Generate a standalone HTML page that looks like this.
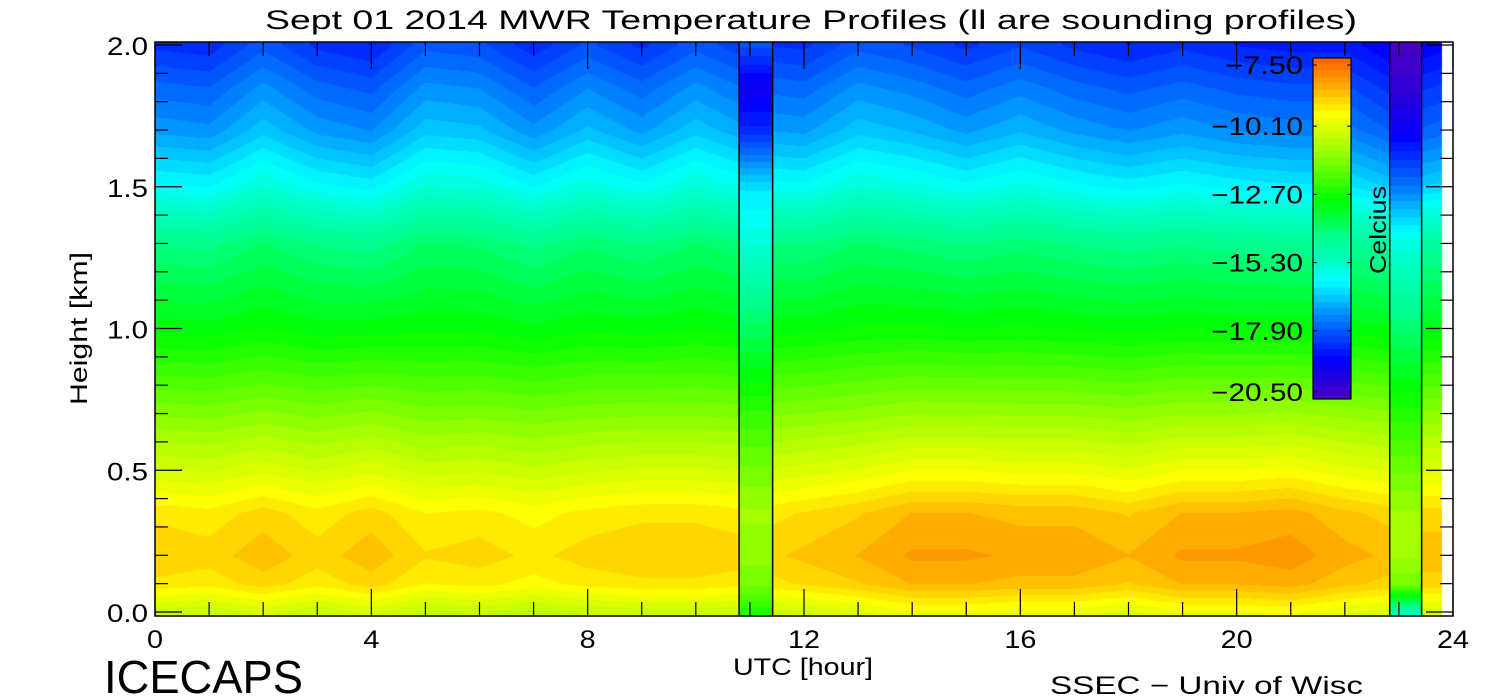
<!DOCTYPE html>
<html><head><meta charset="utf-8"><style>
body{margin:0;background:#fff;width:1500px;height:700px;overflow:hidden;font-family:"Liberation Sans",sans-serif;}
#wrap{position:relative;width:1500px;height:700px;}
canvas{position:absolute;left:0;top:0;}
svg{position:absolute;left:0;top:0;}
</style></head><body>
<div id="wrap">
<canvas id="c" width="1500" height="700"></canvas>
<svg id="s" width="1500" height="700" font-family="Liberation Sans" font-weight="300">
<text x="265" y="29" font-size="27" textLength="1092" lengthAdjust="spacingAndGlyphs">Sept 01 2014 MWR Temperature Profiles (ll are sounding profiles)</text>
<text x="733" y="675" font-size="24" textLength="140" lengthAdjust="spacingAndGlyphs">UTC [hour]</text>
<text x="0" y="0" font-size="24" textLength="153" lengthAdjust="spacingAndGlyphs" transform="translate(87,405) rotate(-90)">Height [km]</text>
<text x="104" y="693" font-size="46" textLength="199" lengthAdjust="spacingAndGlyphs">ICECAPS</text>
<text x="1050" y="694" font-size="25" textLength="313" lengthAdjust="spacingAndGlyphs">SSEC − Univ of Wisc</text>
<text x="0" y="0" font-size="23" textLength="88" lengthAdjust="spacingAndGlyphs" transform="translate(1386,274) rotate(-90)">Celcius</text>
</svg>
</div>
<script>
const heights=[0.0,0.1,0.2,0.35,0.5,0.7,1.0,1.3,1.5,1.7,1.85,2.0];
const baseProfile=[-10.5,-9.4,-9.1,-9.4,-10.3,-11.4,-13.0,-14.2,-15.9,-17.1,-17.7,-18.4];
const lowerWeight=[1,1,1,1,0.8,0.5,0.2,0,0,0,0,0];
const upperWeight=[0,0,0,0,0,0,0.2,0.6,0.9,1,1,1];
const times=[0,1,2,3,4,5,6,7,8,9,10,11,12,13,14,15,16,17,18,19,20,21,22,23,24];
const lowerAnom=[0.1,0.0,0.3,0.0,0.3,-0.1,0.0,-0.2,0.0,0.1,0.1,0.0,0.2,0.4,0.7,0.7,0.6,0.6,0.4,0.7,0.7,0.8,0.5,0.3,0.3];
const upperAnom=[0,-0.1,0.5,0,-0.2,0.5,0.4,-0.1,0.4,0,0.5,0.1,0,0.5,0.3,0,0.3,0,-0.2,0,-0.2,-0.3,-0.3,-0.8,-0.5];
const sounding1=[-12.5,-11.5,-11.2,-11.0,-11.5,-12.3,-13.8,-15.5,-16.3,-18.5,-19.3,-18.0];
const sounding2=[-15,-11.5,-11.0,-11.0,-11.6,-12.5,-14.0,-15.6,-17.5,-19.2,-20.0,-20.5];
const soundingTimes=[[10.8,11.42],[22.83,23.42]];
const dataEnd=23.8;
const xTicks=[0,4,8,12,16,20,24];
const yTicks=[0.0,0.5,1.0,1.5,2.0];
const cbLabels=["-7.50","-10.10","-12.70","-15.30","-17.90","-20.50"];
const cbValues=[-7.5,-10.1,-12.7,-15.3,-17.9,-20.5];

const L=155,R=1453,T=42,B=616;
const X=t=>L+(t/24)*(R-L);
const Y=h=>B-4-(h/2)*(B-4-(T+3));
const stops=[[-20.5,[74,0,192]],[-19,[0,0,255]],[-17.5,[0,120,255]],[-16.6,[0,200,255]],[-16.0,[0,255,255]],[-15.3,[0,255,200]],[-14.3,[0,255,140]],[-12.9,[0,255,0]],[-11,[160,255,0]],[-9.6,[255,255,0]],[-8.5,[255,165,0]],[-7.5,[255,100,0]]];
function col(v){v=Math.round(v/0.26)*0.26;if(v<=stops[0][0])return stops[0][1];
 for(let i=1;i<stops.length;i++){if(v<=stops[i][0]){const a=stops[i-1],b=stops[i],f=(v-a[0])/(b[0]-a[0]);return a[1].map((c,k)=>c+(b[1][k]-c)*f);}}return stops[stops.length-1][1];}
function interp(arr,h){if(h<=heights[0])return arr[0];for(let i=1;i<heights.length;i++){if(h<=heights[i]){const f=(h-heights[i-1])/(heights[i]-heights[i-1]);return arr[i-1]+(arr[i]-arr[i-1])*f;}}return arr[arr.length-1];}
function retr(t,h){let i=Math.min(Math.floor(t),23),f=t-i;
 const la=lowerAnom[i]+(lowerAnom[i+1]-lowerAnom[i])*f, ua=upperAnom[i]+(upperAnom[i+1]-upperAnom[i])*f;
 return interp(baseProfile,h)+la*interp(lowerWeight,h)+ua*interp(upperWeight,h);}
const cv=document.getElementById('c'),ctx=cv.getContext('2d');
const img=ctx.createImageData(R-L,B-T);
for(let py=0;py<B-T;py++){const h=Math.max(0,Math.min(2,(B-4-(py+T))/((B-4)-(T+3))*2));
 for(let px=0;px<R-L;px++){const t=(px+0.5)/(R-L)*24;let v;
  if(t>dataEnd){continue;}
  if(t>=soundingTimes[0][0]&&t<soundingTimes[0][1])v=interp(sounding1,h);
  else if(t>=soundingTimes[1][0]&&t<soundingTimes[1][1])v=interp(sounding2,h);
  else v=retr(t,h);
  const c=col(v),k=(py*(R-L)+px)*4;img.data[k]=c[0];img.data[k+1]=c[1];img.data[k+2]=c[2];img.data[k+3]=255;}}
ctx.putImageData(img,L,T);
const cbL=1313,cbR=1351,cbT=58,cbB=399;
for(let y=cbT;y<cbB;y++){const v=-7.5-(y-cbT)/(cbB-cbT)*13;const c=col(v);ctx.fillStyle=`rgb(${c[0]|0},${c[1]|0},${c[2]|0})`;ctx.fillRect(cbL,y,cbR-cbL,1);}
const s=document.getElementById('s');const NS='http://www.w3.org/2000/svg';
function el(tag,a,p){const e=document.createElementNS(NS,tag);for(const k in a)e.setAttribute(k,a[k]);(p||s).appendChild(e);return e;}
let e;
e=el('rect',{x:L,y:T,width:R-L,height:B-T,fill:'none',stroke:'#000','stroke-width':1.5});


soundingTimes.forEach(st=>{st.forEach(t=>{const l=el('line',{x1:X(t),x2:X(t),y1:T,y2:B,stroke:'#000','stroke-width':1.5});

});});
for(let t=0;t<=24;t++){const maj=t%4===0,len=maj?27:14;
 el('line',{x1:X(t),x2:X(t),y1:B,y2:B-len,stroke:'#000','stroke-width':1.2});
 el('line',{x1:X(t),x2:X(t),y1:T,y2:T+len,stroke:'#000','stroke-width':1.2});}
for(let i=0;i<=20;i++){const h=i/10,maj=i%5===0,len=maj?27:13;
 el('line',{x1:L,x2:L+len,y1:Y(h),y2:Y(h),stroke:'#000','stroke-width':1.2});
 el('line',{x1:R,x2:R-len,y1:Y(h),y2:Y(h),stroke:'#000','stroke-width':1.2});}
xTicks.forEach(t=>{const str=String(t);const tx=el('text',{x:X(t),y:648,'text-anchor':'middle','font-size':25,textLength:str.length*16,lengthAdjust:'spacingAndGlyphs'});tx.textContent=str;

});
yTicks.forEach(h=>{const tx=el('text',{x:148,y:Y(h)+10,'text-anchor':'end','font-size':25,textLength:41,lengthAdjust:'spacingAndGlyphs'});tx.textContent=h.toFixed(1);

});
e=el('rect',{x:cbL,y:cbT,width:cbR-cbL,height:cbB-cbT,fill:'none',stroke:'#000','stroke-width':1.2});


cbValues.forEach((v,i)=>{const y=cbT+(-7.5-v)/13*(cbB-cbT)+(i===0?7:0)-(i===5?7:0);
 el('line',{x1:cbL,x2:cbL+4,y1:y,y2:y,stroke:'#000'});el('line',{x1:cbR,x2:cbR-4,y1:y,y2:y,stroke:'#000'});
 const str=cbLabels[i].replace('-','\u2212');
 const tx=el('text',{x:1303,y:y+9,'text-anchor':'end','font-size':25,textLength:str.length===5?78:92,lengthAdjust:'spacingAndGlyphs'});tx.textContent=str;
 
 });
</script>
</body></html>
